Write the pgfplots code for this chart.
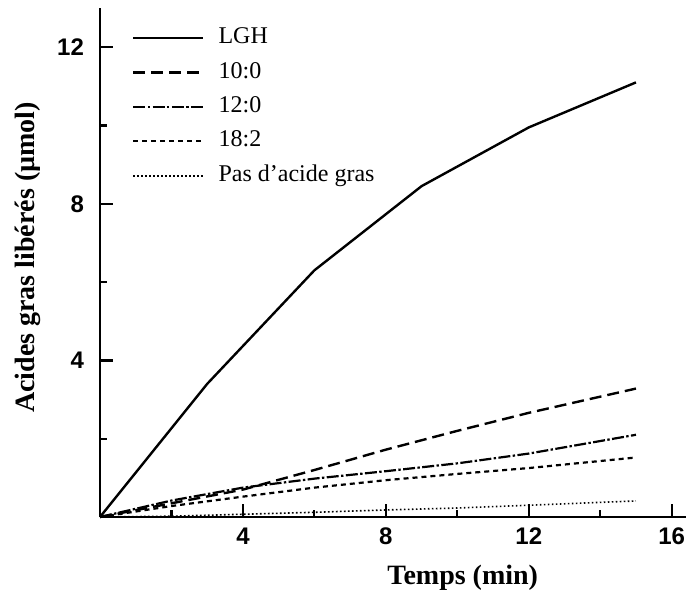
\documentclass[border=0pt]{standalone}
\usepackage{fontspec}
\setmainfont{Liberation Serif}
\setsansfont{Liberation Sans}
\usepackage{pgfplots}
\pgfplotsset{compat=1.18}
\begin{document}
\begin{tikzpicture}
\useasboundingbox (-50pt,-41pt) rectangle (293pt,258.5pt);
\begin{axis}[
  scale only axis,
  width=293pt, height=254.5pt,
  xmin=0, xmax=16.4, ymin=0, ymax=13,
  axis x line=bottom, axis y line=left,
  axis line style={-, line width=1.3pt},
  clip=false,
  xtick={4,8,12,16}, minor xtick={2,6,10,14},
  ytick={4,8,12}, minor ytick={2,6,10},
  tick align=inside,
  major tick length=6.5pt, minor tick length=3.5pt,
  tick style={black, line width=1.2pt},
  major tick style={black, line width=1.2pt},
  minor tick style={black, line width=1.1pt},
  /pgf/number format/assume math mode=true,
  tick label style={font=\fontsize{12}{14}\selectfont\sffamily\bfseries},
  xticklabel shift=2pt, yticklabel shift=4.5pt,
  xlabel={\textbf{Temps (min)}},
  ylabel={\textbf{Acides gras libérés (µmol)}},
  label style={font=\fontsize{14}{16}\selectfont},
  xlabel style={at={(axis description cs:0.619,-0.1198)}, anchor=center},
  ylabel style={at={(axis description cs:-0.123,0.51)}, anchor=center, rotate=0},
  legend style={draw=none, fill=none, at={(axis description cs:0.044,0.972)}, anchor=north west,
    font=\fontsize{12}{14}\selectfont, row sep=5.7pt,
    nodes={inner sep=0pt, text height=8.5pt, text depth=3pt}},
  legend cell align=left,
  legend image code/.code={\draw[#1] (0pt,0pt) -- (35pt,0pt); \path (42pt,0pt);},
]
\addplot[black, line width=1.2pt] coordinates {(0,0) (3,3.4) (6,6.3) (9,8.45) (12,9.95) (15,11.1)};
\addlegendentry{LGH}
\addplot[black, line width=1.2pt, dash pattern=on 6pt off 3pt] coordinates {(0,0) (2,0.35) (4,0.7) (6,1.2) (8,1.72) (10,2.2) (12,2.66) (15,3.28)};
\addlegendentry{10:0}
\addplot[black, line width=1.1pt, dash pattern=on 6pt off 1.2pt on 1.2pt off 1.2pt] coordinates {(0,0) (2,0.42) (4,0.75) (6,0.98) (8,1.17) (10,1.37) (12,1.62) (15,2.1)};
\addlegendentry{12:0}
\addplot[black, line width=1.1pt, dash pattern=on 2.5pt off 2pt] coordinates {(0,0) (2,0.28) (4,0.52) (6,0.75) (8,0.94) (10,1.1) (12,1.25) (15,1.52)};
\addlegendentry{18:2}
\addplot[black, line width=0.8pt, dash pattern=on 0.8pt off 1.2pt] coordinates {(0,0) (2,0.02) (4,0.07) (6,0.12) (8,0.18) (10,0.23) (12,0.3) (15,0.41)};
\addlegendentry{Pas d’acide gras}
\end{axis}
\end{tikzpicture}
\end{document}
